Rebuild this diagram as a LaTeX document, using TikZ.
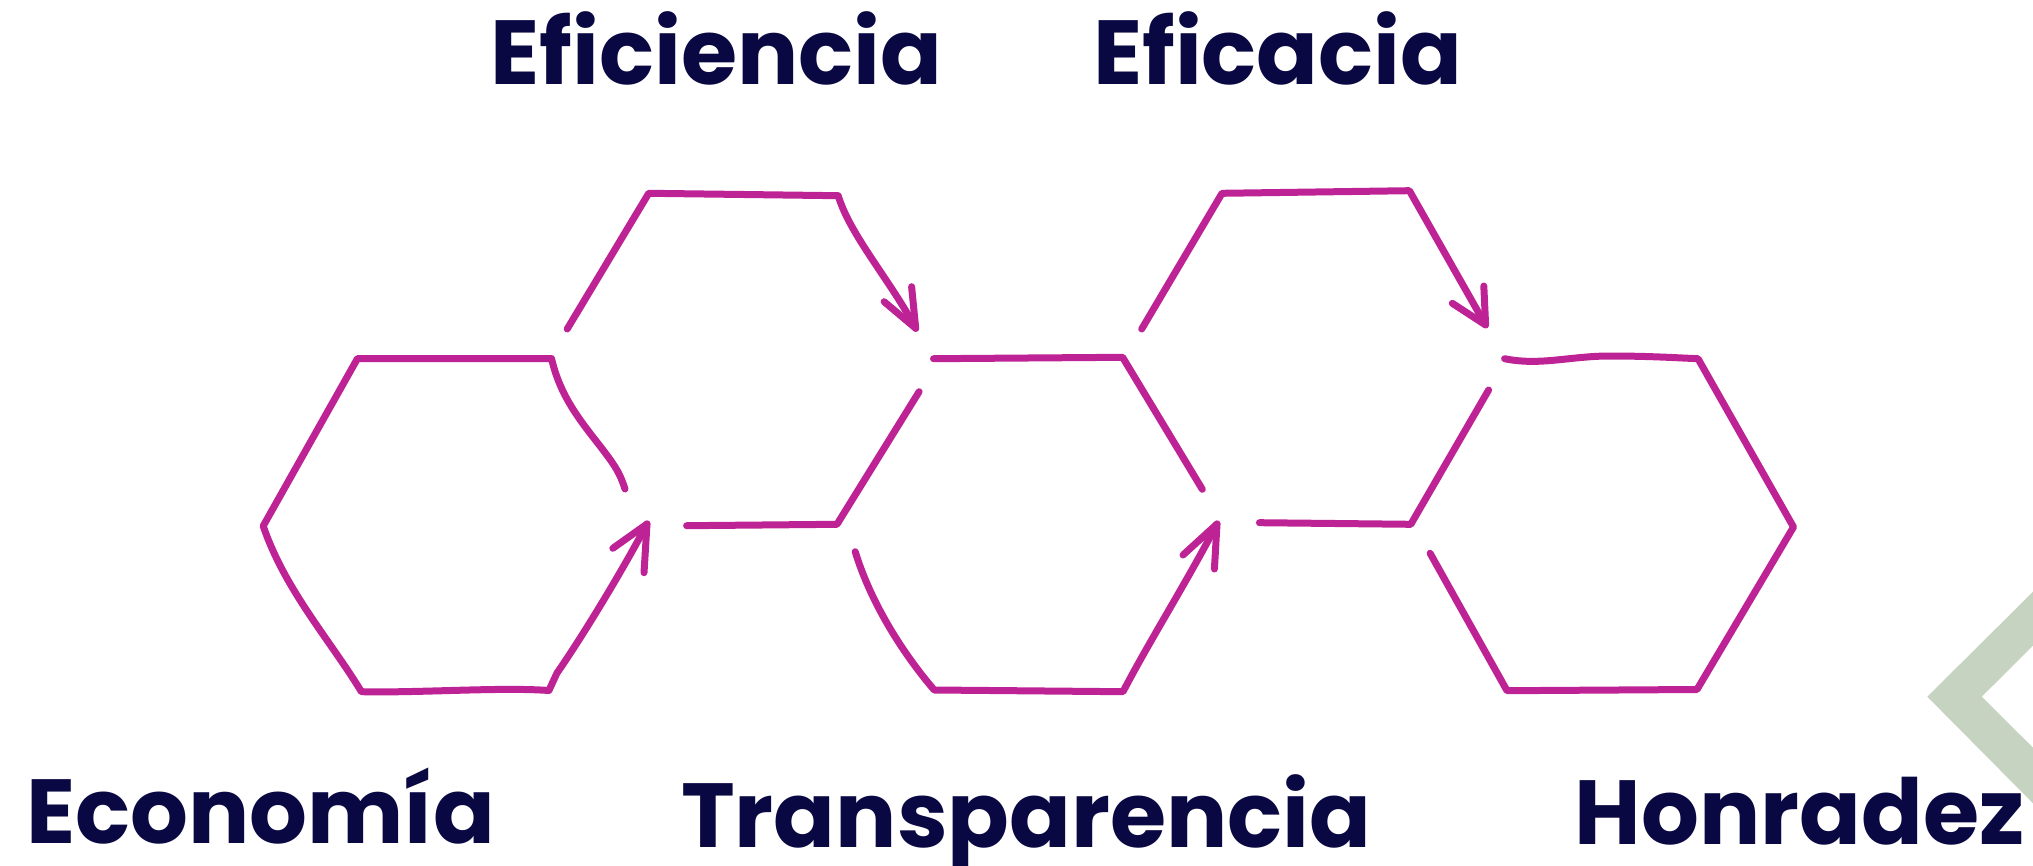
\documentclass[tikz,border=0pt]{standalone}
\usepackage{fontspec}
\setmainfont{Poppins}
\definecolor{mag}{RGB}{190,35,150}
\definecolor{navy}{RGB}{10,8,66}
\definecolor{sage}{RGB}{197,211,192}
\begin{document}
\begin{tikzpicture}[x=0.5pt,y=-0.5pt,
  stroke/.style={draw=mag,line width=3.5pt,line cap=round,line join=round},
  lbl/.style={inner sep=0pt,anchor=base,text=navy,font=\fontsize{45.5}{50}\selectfont\bfseries}]
\useasboundingbox (0,0) rectangle (2033,866);
% green chevron
\fill[sage] (2033,591.7) -- (1927.3,696.7) -- (2033,803.3) -- (2033,747.7) -- (1981.7,696.7) -- (2033,645.7) -- cycle;

% ---- left hexagon (Economia)
\coordinate (t1) at (647,524);
\draw[stroke] (625,489) .. controls (619,470) and (612,462) .. (600,446)
  .. controls (578,418) and (560,395) .. (551.5,358.5) -- (357.5,358.5) -- (263.2,526)
  .. controls (285,590) and (330,640) .. (361.4,691.7)
  .. controls (420,693) and (500,687) .. (548.9,690.5) -- (557,673)
  .. controls (580,640) and (620,575) .. (t1);
\draw[stroke] (612.8,548.3) -- (t1) -- (644,572.7);

% ---- top hexagon (Eficiencia)
\coordinate (t2) at (915.7,328.3);
\draw[stroke] (567.2,329) -- (648.7,193.3) -- (838.2,195.7)
  .. controls (850,235) and (890,280) .. (t2);
\draw[stroke] (884.1,301.7) -- (t2) -- (911.6,286.7);

% ---- middle hexagon (Transparencia)
\coordinate (t3) at (1217,524);
\draw[stroke] (933.5,358.7) -- (1122.6,357.3) -- (1202.3,489.3);
\draw[stroke] (919.1,391.7) -- (837,524.3) -- (686.6,525.7);
\draw[stroke] (855.2,551.7) .. controls (870,600) and (900,650) .. (934.2,690)
  -- (1123,691.7) .. controls (1150,640) and (1185,585) .. (t3);
\draw[stroke] (1183,555) -- (t3) -- (1214.4,569);

% ---- top hexagon (Eficacia)
\coordinate (t4) at (1485.6,325);
\draw[stroke] (1141.7,329) -- (1222,193.3) -- (1409.4,190.7) -- (t4);
\draw[stroke] (1452.3,303.3) -- (t4) -- (1483.8,286);

% ---- right hexagon (Honradez)
\draw[stroke] (1504.6,358.7) .. controls (1540,366) and (1570,356) .. (1610,356)
  .. controls (1650,356) and (1680,358) .. (1698,358.7)
  -- (1793.5,527) -- (1697,689.5) -- (1507,690.7) -- (1430.1,553.3);
\draw[stroke] (1488.6,390) -- (1410.8,524.3) -- (1259.4,522.7);

% ---- labels
\node[lbl] (efi) at (716.5,85) {Eficiencia};
\node[lbl] (efa) at (1277.7,85) {Eficacia};
\node[lbl] (eco) at (260.5,843.3) {Economía};
\node[lbl] (tra) at (1026.3,847) {Transparencia};
\node[lbl] (hon) at (1799.6,844.5) {Honradez};
\end{tikzpicture}
\end{document}
